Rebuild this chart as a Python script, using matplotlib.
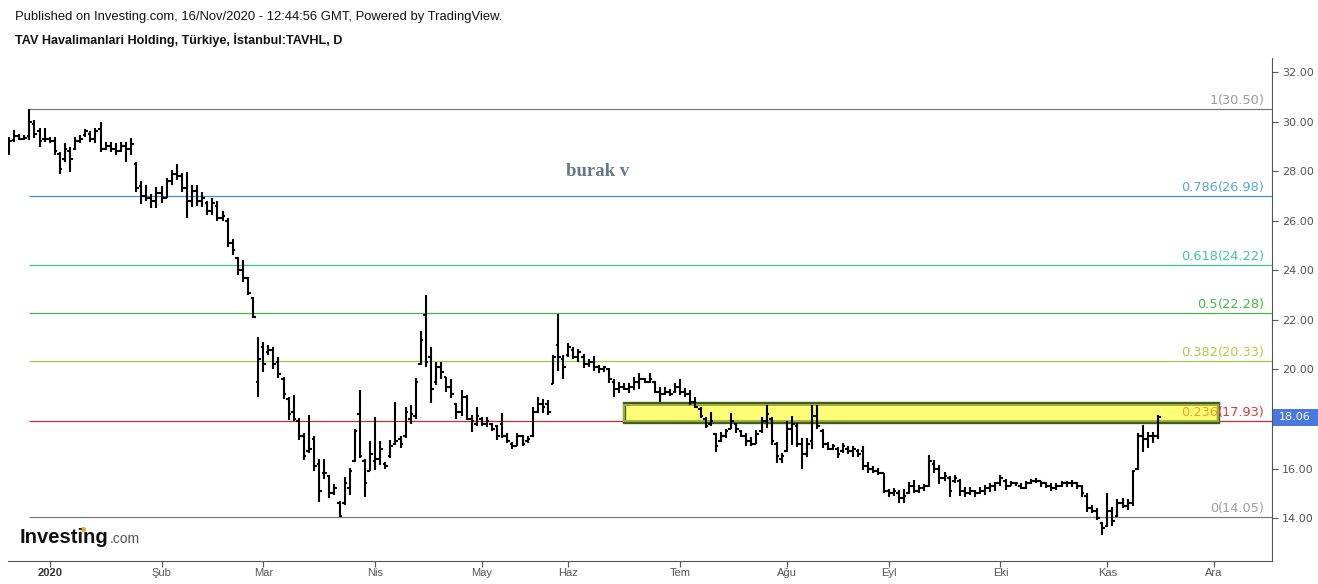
import matplotlib
matplotlib.use('Agg')
import matplotlib.pyplot as plt
import numpy as np
import pandas as pd
from matplotlib.patches import Rectangle
from matplotlib.lines import Line2D
from matplotlib.transforms import blended_transform_factory

# ---------------- data (daily OHLC, TAVHL, 20 Dec 2019 - 16 Nov 2020) ----------------
start_date = '2019-12-20'
holidays = ['2020-01-01', '2020-04-23', '2020-05-01', '2020-05-19', '2020-05-25',
            '2020-05-26', '2020-07-15', '2020-07-31', '2020-08-03', '2020-10-29']

highs = [
    29.39, 29.66, 29.49, 29.46, 30.50, 30.06, 29.75, 29.75, 29.39, 29.39,
    28.79, 29.12, 28.99, 29.39, 29.46, 29.70, 29.62, 29.75, 29.99, 29.19,
    29.19, 29.12, 29.19, 29.19, 29.33, 28.38, 27.60, 27.44, 27.06, 27.37,
    27.41, 27.71, 28.04, 28.27, 27.91, 27.98, 27.44, 27.44, 27.17, 26.80,
    26.90, 26.80, 26.39, 26.12, 25.26, 24.55, 24.41, 23.74, 22.93, 21.30,
    21.12, 20.98, 20.89, 20.49, 19.71, 18.88, 18.97, 18.03, 17.45, 18.16,
    17.32, 16.38, 16.38, 15.75, 15.38, 14.67, 15.65, 16.01, 17.59, 19.17,
    16.38, 17.09, 18.07, 17.09, 16.28, 17.16, 18.70, 17.32, 18.50, 18.57,
    19.64, 21.53, 23.00, 20.92, 20.28, 20.28, 19.71, 19.60, 18.66, 19.17,
    18.97, 18.16, 18.50, 18.09, 18.07, 17.85, 17.76, 18.25, 17.45, 17.08,
    17.45, 17.35, 17.31, 18.47, 18.87, 18.79, 18.76, 20.58, 22.24, 20.58,
    21.08, 20.92, 20.81, 20.62, 20.41, 20.54, 20.18, 20.14, 20.04, 19.60,
    19.50, 19.46, 19.44, 19.68, 19.87, 19.64, 19.84, 19.54, 19.28, 19.30,
    19.20, 19.46, 19.60, 19.24, 19.17, 18.87, 18.50, 18.09, 18.29, 17.45,
    17.49, 17.58, 18.25, 17.85, 17.55, 17.44, 17.26, 17.55, 18.09, 18.56,
    18.09, 17.08, 16.64, 17.93, 18.12, 17.82, 17.22, 17.22, 18.56, 18.56,
    17.58, 17.08, 16.99, 16.85, 17.04, 16.91, 16.91, 16.77, 16.91, 16.28,
    16.10, 16.01, 15.80, 15.16, 15.20, 15.13, 15.16, 15.47, 15.54, 15.33,
    15.38, 16.54, 16.34, 16.14, 15.87, 15.70, 15.74, 15.56, 15.27, 15.27,
    15.13, 15.24, 15.33, 15.42, 15.47, 15.73, 15.56, 15.51, 15.47, 15.40,
    15.51, 15.56, 15.60, 15.51, 15.47, 15.42, 15.40, 15.51, 15.51, 15.53,
    15.47, 15.33, 15.02, 14.52, 14.39, 13.85, 15.00, 14.46, 14.75, 14.79,
    14.75, 15.93, 17.42, 17.75, 17.49, 17.49, 18.16,
]
lows = [
    28.65, 29.19, 29.26, 29.26, 29.26, 29.33, 28.99, 29.19, 29.12, 28.65,
    27.87, 28.38, 27.98, 28.85, 29.12, 29.39, 29.19, 29.12, 28.79, 28.85,
    28.79, 28.65, 28.79, 28.38, 28.65, 27.17, 26.66, 26.80, 26.53, 26.53,
    26.70, 26.90, 27.44, 27.64, 27.17, 26.12, 26.57, 26.60, 26.57, 26.23,
    26.23, 25.98, 25.98, 24.95, 24.61, 23.81, 23.54, 23.00, 22.06, 18.90,
    19.91, 20.58, 20.00, 19.64, 18.80, 17.96, 17.90, 17.16, 16.35, 16.62,
    15.88, 14.63, 15.57, 14.80, 14.94, 14.05, 14.53, 14.94, 16.28, 16.42,
    14.87, 15.88, 15.92, 16.15, 15.97, 16.42, 16.96, 16.82, 17.23, 17.80,
    17.99, 20.18, 20.09, 18.66, 19.37, 19.60, 19.10, 18.84, 17.99, 18.12,
    17.96, 17.49, 17.72, 17.72, 17.69, 17.53, 17.15, 17.22, 17.04, 16.77,
    16.91, 16.91, 17.02, 17.26, 18.23, 18.23, 18.16, 19.41, 19.95, 19.60,
    20.51, 20.41, 20.31, 20.04, 20.11, 19.95, 19.87, 19.91, 19.44, 18.90,
    19.06, 19.17, 19.03, 19.17, 19.20, 19.44, 19.46, 19.03, 18.70, 18.97,
    18.93, 19.03, 18.97, 18.90, 18.56, 18.43, 18.02, 17.62, 17.72, 16.68,
    17.08, 17.22, 17.58, 17.44, 17.26, 16.91, 16.91, 16.99, 17.44, 17.62,
    16.95, 16.24, 16.24, 16.68, 16.95, 16.88, 15.97, 16.48, 16.77, 17.58,
    16.81, 16.74, 16.74, 16.41, 16.61, 16.58, 16.48, 16.48, 15.94, 15.83,
    15.83, 15.74, 15.00, 14.86, 14.89, 14.62, 14.62, 14.97, 15.00, 15.00,
    15.11, 15.27, 15.80, 15.38, 15.51, 14.86, 15.40, 14.89, 14.86, 14.93,
    14.86, 14.97, 14.93, 15.06, 15.10, 15.29, 15.13, 15.29, 15.29, 15.16,
    15.16, 15.37, 15.40, 15.27, 15.20, 15.10, 15.13, 15.24, 15.27, 15.24,
    15.16, 14.86, 14.26, 14.21, 13.92, 13.31, 13.65, 13.68, 14.05, 14.39,
    14.32, 14.48, 15.96, 16.68, 16.81, 17.01, 17.21,
]
opens = [
    28.70, 29.25, 29.40, 29.30, 29.40, 29.90, 29.60, 29.30, 29.30, 29.20,
    28.70, 28.50, 28.80, 28.90, 29.20, 29.45, 29.50, 29.30, 29.70, 28.90,
    29.00, 28.90, 28.80, 29.00, 28.90, 28.30, 27.40, 27.00, 26.90, 26.80,
    27.10, 26.90, 27.60, 27.90, 27.80, 27.30, 26.80, 27.20, 26.80, 26.70,
    26.40, 26.60, 26.10, 26.00, 25.10, 24.50, 24.00, 23.70, 22.90, 19.50,
    20.90, 20.70, 20.80, 20.30, 19.60, 18.80, 18.30, 17.90, 17.30, 16.70,
    17.20, 16.20, 15.80, 15.70, 15.00, 14.60, 14.60, 15.20, 16.30, 18.20,
    16.30, 15.90, 16.30, 16.40, 16.20, 16.50, 17.00, 17.20, 17.30, 18.00,
    18.10, 20.20, 22.20, 20.50, 19.50, 20.10, 19.70, 19.30, 18.60, 18.30,
    18.90, 18.00, 17.80, 18.00, 17.80, 17.80, 17.70, 17.80, 17.30, 17.00,
    16.90, 17.30, 17.10, 17.30, 18.30, 18.60, 18.60, 19.40, 21.00, 20.40,
    20.60, 20.80, 20.50, 20.50, 20.20, 20.30, 20.10, 20.00, 20.00, 19.50,
    19.20, 19.30, 19.20, 19.30, 19.50, 19.60, 19.50, 19.50, 19.10, 19.00,
    19.10, 19.10, 19.30, 19.10, 19.00, 18.70, 18.40, 18.00, 17.80, 17.40,
    17.10, 17.30, 17.60, 17.80, 17.50, 17.30, 17.10, 17.00, 17.50, 17.90,
    18.00, 17.00, 16.40, 16.70, 17.60, 17.70, 17.00, 16.60, 17.10, 18.10,
    17.50, 17.00, 16.80, 16.80, 16.70, 16.80, 16.70, 16.70, 16.70, 16.10,
    16.00, 15.90, 15.80, 15.10, 15.00, 15.00, 14.80, 15.00, 15.30, 15.10,
    15.20, 15.30, 16.20, 16.00, 15.60, 15.60, 15.50, 15.50, 15.10, 15.00,
    15.10, 15.00, 15.10, 15.20, 15.30, 15.40, 15.50, 15.30, 15.40, 15.30,
    15.20, 15.40, 15.50, 15.50, 15.40, 15.30, 15.20, 15.30, 15.40, 15.40,
    15.40, 15.30, 14.90, 14.40, 14.30, 13.80, 13.70, 14.30, 14.10, 14.60,
    14.50, 14.60, 16.00, 17.30, 17.20, 17.30, 17.30,
]
closes = [
    29.20, 29.40, 29.30, 29.35, 30.00, 29.50, 29.20, 29.30, 29.20, 28.80,
    28.10, 28.90, 28.50, 29.20, 29.30, 29.60, 29.30, 29.60, 28.90, 29.00,
    28.90, 28.80, 29.00, 28.90, 29.10, 27.30, 27.00, 26.90, 26.80, 27.10,
    26.90, 27.60, 27.90, 27.80, 27.30, 26.80, 27.20, 26.80, 26.90, 26.40,
    26.70, 26.10, 26.20, 25.10, 24.80, 24.00, 23.70, 23.10, 22.10, 20.40,
    20.20, 20.80, 20.20, 19.80, 19.00, 18.20, 18.00, 17.30, 16.50, 16.80,
    16.10, 15.10, 15.80, 15.00, 15.20, 14.10, 15.40, 15.90, 17.50, 16.50,
    15.40, 16.60, 16.40, 16.80, 16.10, 16.90, 17.10, 17.00, 18.30, 18.20,
    19.50, 21.20, 20.30, 19.20, 20.10, 19.90, 19.30, 19.00, 18.30, 18.90,
    18.00, 17.90, 18.10, 17.80, 17.90, 17.60, 17.30, 17.30, 17.10, 16.90,
    17.30, 17.00, 17.20, 18.30, 18.60, 18.50, 18.30, 20.50, 20.50, 20.10,
    20.90, 20.50, 20.70, 20.20, 20.30, 20.10, 20.00, 20.10, 19.60, 19.20,
    19.30, 19.20, 19.30, 19.50, 19.60, 19.50, 19.60, 19.10, 19.00, 19.10,
    19.00, 19.30, 19.10, 19.00, 18.70, 18.50, 18.10, 17.70, 17.90, 16.90,
    17.30, 17.50, 17.90, 17.60, 17.30, 17.10, 17.00, 17.40, 17.90, 18.20,
    17.10, 16.50, 16.50, 17.60, 17.80, 17.00, 16.60, 17.00, 18.10, 17.70,
    17.00, 16.80, 16.90, 16.60, 16.90, 16.70, 16.80, 16.60, 16.10, 16.00,
    15.90, 15.80, 15.10, 15.00, 15.10, 14.80, 14.90, 15.30, 15.10, 15.20,
    15.30, 16.30, 16.00, 15.60, 15.70, 15.10, 15.60, 15.10, 15.00, 15.10,
    15.00, 15.10, 15.20, 15.30, 15.40, 15.60, 15.30, 15.40, 15.40, 15.20,
    15.40, 15.50, 15.50, 15.40, 15.30, 15.20, 15.30, 15.40, 15.40, 15.40,
    15.30, 15.00, 14.40, 14.30, 14.00, 13.60, 14.30, 13.90, 14.60, 14.50,
    14.60, 15.90, 17.30, 17.20, 17.30, 17.30, 18.06,
]

month_labels = ['2020', 'Şub', 'Mar', 'Nis', 'May', 'Haz', 'Tem', 'Ağu', 'Eyl', 'Eki', 'Kas', 'Ara']
fib_ratios = ['1', '0.786', '0.618', '0.5', '0.382', '0.236', '0']
fib_levels = [30.50, 26.98, 24.22, 22.28, 20.33, 17.93, 14.05]
fib_line_colors = ['#7a7a7a', '#3a93c8', '#35c79a', '#44b844', '#9ccc3c', '#cc2b2b', '#7a7a7a']
fib_ratio_colors = ['#9a9a9a', '#4fa7dc', '#3acb96', '#3dbb3d', '#a6cf42', '#f0a020', '#a0a0a0']
fib_value_colors = ['#9a9a9a', '#4fa7dc', '#3acb96', '#3dbb3d', '#a6cf42', '#d83a3a', '#a0a0a0']
band_low, band_high = 17.86, 18.63
band_start_date, band_end_date = '2020-06-16', '2020-12-01'
last_price = 18.06

# ---------------- calendar ----------------
cal = pd.bdate_range(start_date, '2020-12-31')
cal = cal[~cal.isin(pd.to_datetime(holidays))]
n = min(len(highs), len(lows), len(opens), len(closes))
x = np.arange(n)
H = np.array(highs[:n]); L = np.array(lows[:n])
O = np.array(opens[:n]); C = np.array(closes[:n])

month_pos = []
for m in range(1, 13):
    idx = np.where((cal.year == 2020) & (cal.month == m))[0]
    month_pos.append(idx[0])

# ---------------- figure ----------------
W, Hpx = 1318, 584
fig = plt.figure(figsize=(W / 100, Hpx / 100), dpi=100)
fig.patch.set_facecolor('white')
ax = fig.add_axes([8 / W, 23.3 / Hpx, (1272 - 8) / W, (560.7 - 58) / Hpx])
ax.set_facecolor('white')
ax.set_xlim(-0.2, 248.4)
ax.set_ylim(12.28, 32.565)

# fib lines
xmax = ax.get_xlim()[1]
for lvl, col in zip(fib_levels, fib_line_colors):
    ax.hlines(lvl, 4, xmax, colors=col, linewidth=0.9, zorder=1)

# yellow band
bs = cal.get_loc(pd.Timestamp(band_start_date))
be = cal.get_loc(pd.Timestamp(band_end_date)) + 0.8
ax.add_patch(Rectangle((bs, band_low), be - bs, band_high - band_low,
                       facecolor='#fdfd78', edgecolor='#3f5e1c', linewidth=2.4, zorder=2))
ax.add_patch(Rectangle((bs, band_low + 0.075), be - bs, band_high - band_low - 0.15,
                       facecolor='none', edgecolor='#9fb03a', linewidth=1.4, zorder=2))

# OHLC bars
tick = 0.5
ax.vlines(x, L, H, colors='black', linewidth=1.5, zorder=4, capstyle='butt')
ax.hlines(O, x - tick, x, colors='black', linewidth=1.5, zorder=4)
ax.hlines(C, x, x + tick, colors='black', linewidth=1.5, zorder=4)

# fib labels: ratio part + value part, right aligned at the right edge
fig.canvas.draw()
renderer = fig.canvas.get_renderer()
tr = blended_transform_factory(ax.transAxes, ax.transData)
lx = (1265 - 8) / (1272 - 8)
for r, lvl, rc, vc in zip(fib_ratios, fib_levels, fib_ratio_colors, fib_value_colors):
    vt = ax.annotate(f'({lvl:.2f})', xy=(lx, lvl), xycoords=tr, xytext=(0, 1.5),
                     textcoords='offset points', ha='right', va='bottom', color=vc,
                     fontsize=9.3, family='DejaVu Sans', zorder=6)
    wpx = vt.get_window_extent(renderer).width
    ax.annotate(r, xy=(lx, lvl), xycoords=tr, xytext=(-wpx * 72 / fig.dpi, 1.5),
                textcoords='offset points', ha='right', va='bottom', color=rc,
                fontsize=9.3, family='DejaVu Sans', zorder=6)

# spines
for s in ['top', 'left']:
    ax.spines[s].set_visible(False)
ax.spines['right'].set_color('#555555')
ax.spines['bottom'].set_color('#555555')

# y axis on right
ax.yaxis.tick_right()
ax.set_yticks(np.arange(14, 33, 2))
ax.set_yticklabels([f'{v:.2f}' for v in np.arange(14, 33, 2)])
ax.tick_params(axis='y', direction='out', length=4, width=0.8, color='#555555',
               labelcolor='#555555', labelsize=8, pad=3)

# x axis
ax.set_xticks(month_pos)
ax.set_xticklabels(month_labels)
ax.tick_params(axis='x', direction='out', length=4, width=0.8, color='#555555',
               labelcolor='#555555', labelsize=8, pad=1.5)
for lab in ax.get_xticklabels():
    lab.set_family('Liberation Sans')
    if lab.get_text() == '2020':
        lab.set_fontweight('bold')
        lab.set_color('#333333')
for lab in ax.get_yticklabels():
    lab.set_family('DejaVu Sans')

# current price box
btr = blended_transform_factory(fig.transFigure, ax.transData)
box_h = 17 / ((560.7 - 58) / (32.565 - 12.28))
fig.add_artist(Rectangle((1273 / W, last_price - box_h / 2), 45 / W, box_h,
                         transform=btr, facecolor='#4a78e0', edgecolor='none'))
fig.text(1295 / W, last_price, f'{last_price:.2f}', transform=btr, color='white',
         fontsize=8, family='DejaVu Sans', ha='center', va='center')

# header texts
fig.text(15 / W, 1 - 17 / Hpx, 'Published on Investing.com, 16/Nov/2020 - 12:44:56 GMT, Powered by TradingView.',
         fontsize=9.35, family='Liberation Sans', color='#111111', va='center', ha='left')
fig.text(15 / W, 1 - 40 / Hpx, 'TAV Havalimanlari Holding, Türkiye, İstanbul:TAVHL, D',
         fontsize=9.1, family='Liberation Sans', fontweight='bold', color='#111111',
         va='center', ha='left')

# user text
fig.text(598 / W, 1 - 171 / Hpx, 'burak v', fontsize=13.5, family='Liberation Serif',
         fontweight='bold', color='#66788a', ha='center', va='center')

# Investing.com logo
fig.text(20 / W, 1 - 543 / Hpx, 'Investing', fontsize=14.6, family='Liberation Sans',
         fontweight='bold', color='#111111', ha='left', va='baseline')
fig.text(110 / W, 1 - 543 / Hpx, '.com', fontsize=10, family='Liberation Sans',
         color='#555555', ha='left', va='baseline')
fig.add_artist(Line2D([82.5 / W], [1 - 529 / Hpx], marker='o', markersize=2.6,
                      color='#f7a21b', transform=fig.transFigure, linestyle='none'))

fig.savefig('out.png', dpi=100, facecolor='white')
